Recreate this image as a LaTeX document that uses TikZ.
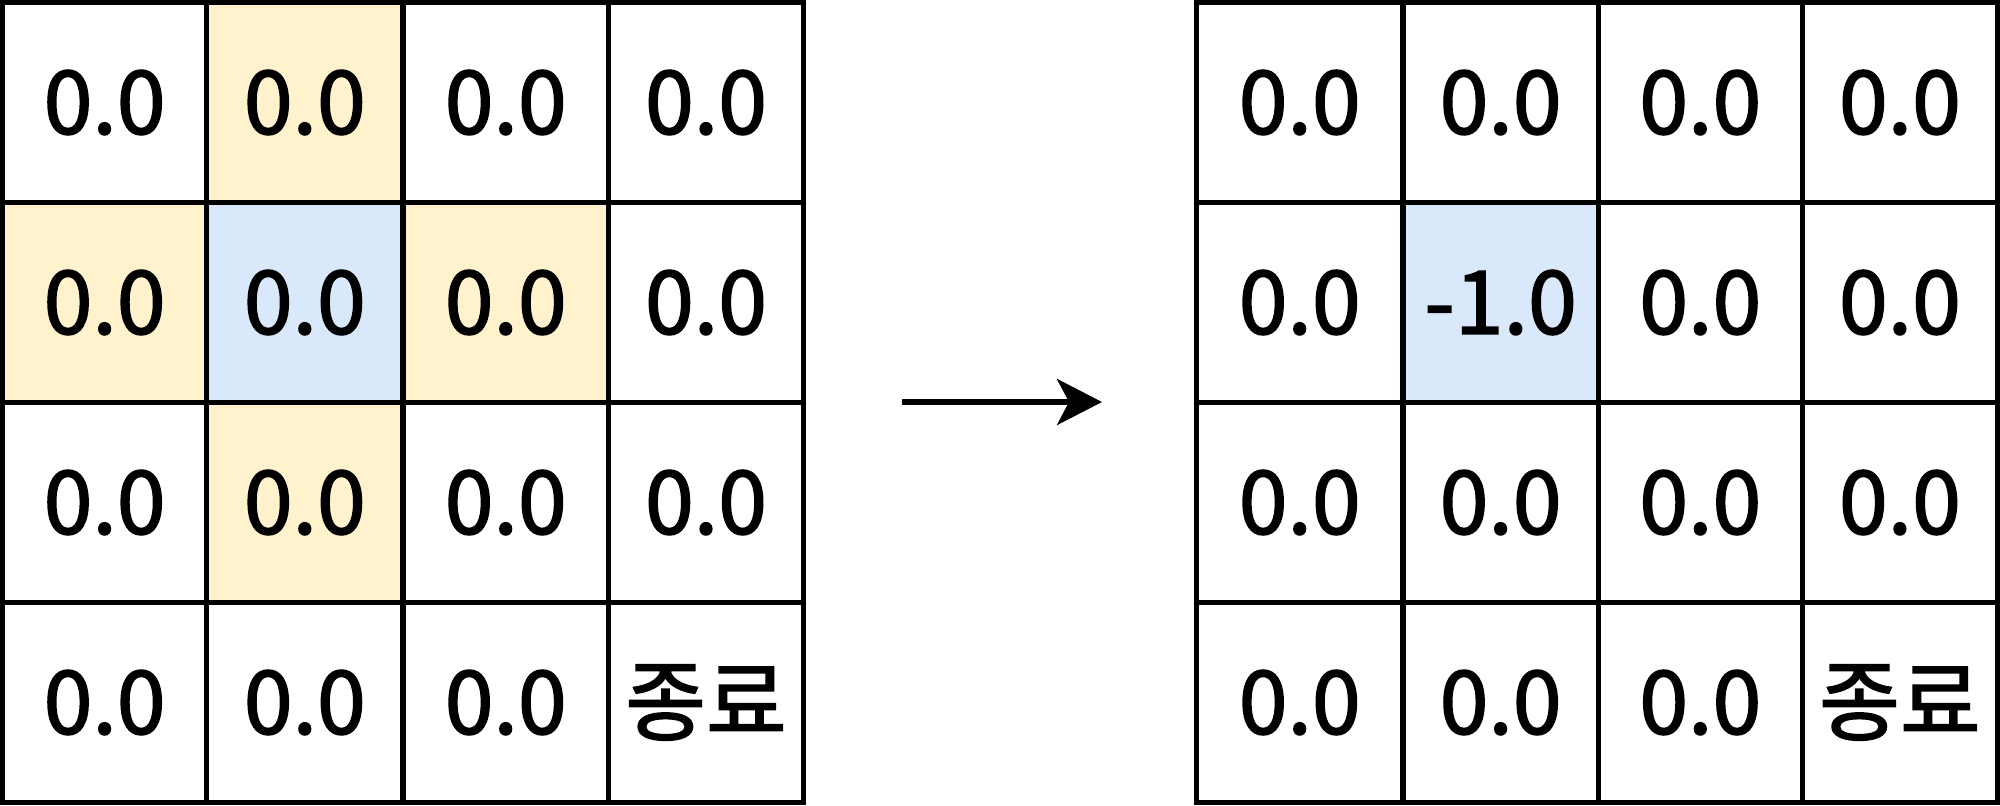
\documentclass[tikz,border=0pt]{standalone}
\usepackage{fontspec}
\setmainfont{Noto Sans CJK KR}
\newfontfamily\cellfont{Noto Sans CJK KR}[UprightFeatures={FakeBold=1.8}]
\usetikzlibrary{arrows.meta,positioning,backgrounds}
\definecolor{nbrfill}{HTML}{FFF2CC}
\definecolor{curfill}{HTML}{DAE8FC}

\begin{document}
\begin{tikzpicture}[x=1cm,y=1cm,
 cell/.style={draw=black,line width=1.5pt,inner sep=0pt,minimum height=2cm,
 font=\cellfont\fontsize{25}{29}\selectfont},
 flow/.style={-{Stealth[length=0.45cm,width=0.46cm,inset=0.12cm]},line width=1.5pt}]
\useasboundingbox (0,0) rectangle (20,8.05);
% left grid (before)
\foreach \r/\y/\ta/\tb/\tc/\td in {1/7.025/0.0/0.0/0.0/0.0,2/5.025/0.0/0.0/0.0/0.0,
 3/3.025/0.0/0.0/0.0/0.0,4/1.025/0.0/0.0/0.0/종료}{
 \node[cell,minimum width=2.04cm] (a\r1) at (1.046,\y) {\ta};
 \node[cell,minimum width=1.964cm] (a\r2) at (3.048,\y) {\tb};
 \node[cell,minimum width=2.054cm] (a\r3) at (5.057,\y) {\tc};
 \node[cell,minimum width=1.952cm] (a\r4) at (7.06,\y) {\td};
}
% right grid (after)
\foreach \r/\y/\ta/\tb/\tc/\td in {1/7.025/0.0/0.0/0.0/0.0,2/5.025/0.0/-1.0/0.0/0.0,
 3/3.025/0.0/0.0/0.0/0.0,4/1.025/0.0/0.0/0.0/종료}{
 \node[cell,minimum width=2.066cm] (b\r1) at (12.997,\y) {\ta};
 \node[cell,minimum width=1.952cm] (b\r2) at (15.006,\y) {\tb};
 \node[cell,minimum width=2.041cm] (b\r3) at (17.003,\y) {\tc};
 \node[cell,minimum width=1.951cm] (b\r4) at (18.999,\y) {\td};
}
\begin{scope}[on background layer]
 \foreach \n in {a12,a21,a23,a32}
  \fill[nbrfill] (\n.north west) rectangle (\n.south east);
 \fill[curfill] (a22.north west) rectangle (a22.south east);
 \fill[curfill] (b22.north west) rectangle (b22.south east);
\end{scope}
\coordinate (start) at (9.02,4.03);
\coordinate (end) at (11.02,4.03);
\draw[flow] (start) -- (end);
\end{tikzpicture}
\end{document}
